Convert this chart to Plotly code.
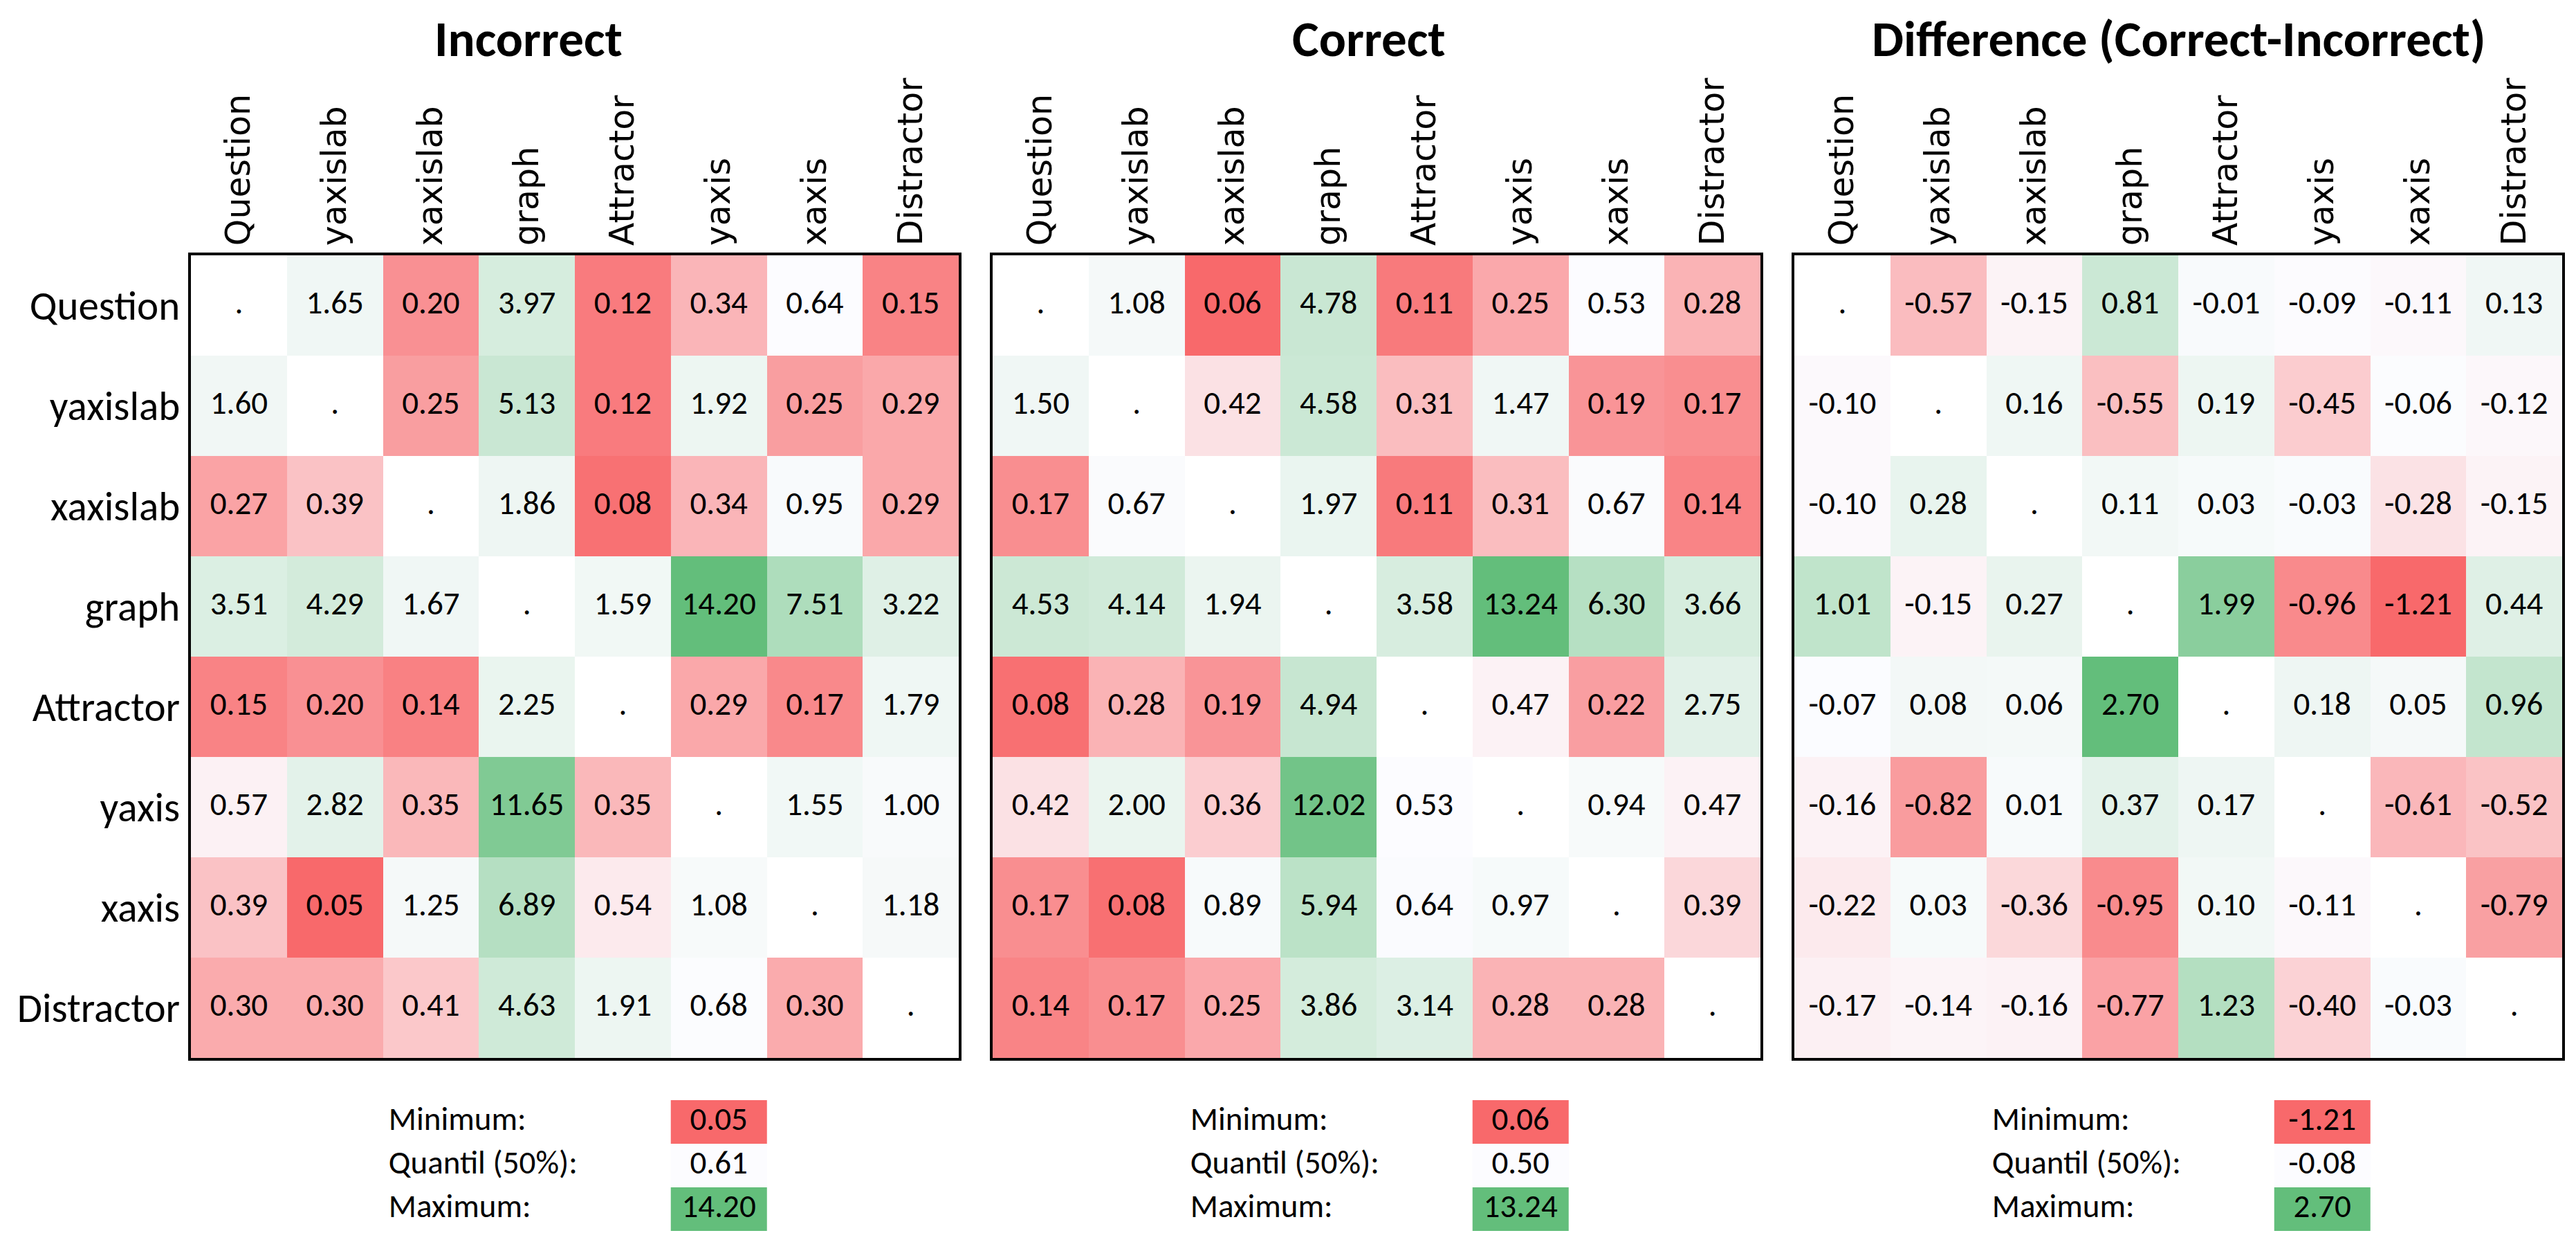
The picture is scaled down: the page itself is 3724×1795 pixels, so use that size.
import plotly.graph_objects as go

# ---------------- data ----------------
labels = ["Question", "yaxislab", "xaxislab", "graph", "Attractor", "yaxis", "xaxis", "Distractor"]

incorrect = [
    [None, 1.65, 0.20, 3.97, 0.12, 0.34, 0.64, 0.15],
    [1.60, None, 0.25, 5.13, 0.12, 1.92, 0.25, 0.29],
    [0.27, 0.39, None, 1.86, 0.08, 0.34, 0.95, 0.29],
    [3.51, 4.29, 1.67, None, 1.59, 14.20, 7.51, 3.22],
    [0.15, 0.20, 0.14, 2.25, None, 0.29, 0.17, 1.79],
    [0.57, 2.82, 0.35, 11.65, 0.35, None, 1.55, 1.00],
    [0.39, 0.05, 1.25, 6.89, 0.54, 1.08, None, 1.18],
    [0.30, 0.30, 0.41, 4.63, 1.91, 0.68, 0.30, None],
]

correct = [
    [None, 1.08, 0.06, 4.78, 0.11, 0.25, 0.53, 0.28],
    [1.50, None, 0.42, 4.58, 0.31, 1.47, 0.19, 0.17],
    [0.17, 0.67, None, 1.97, 0.11, 0.31, 0.67, 0.14],
    [4.53, 4.14, 1.94, None, 3.58, 13.24, 6.30, 3.66],
    [0.08, 0.28, 0.19, 4.94, None, 0.47, 0.22, 2.75],
    [0.42, 2.00, 0.36, 12.02, 0.53, None, 0.94, 0.47],
    [0.17, 0.08, 0.89, 5.94, 0.64, 0.97, None, 0.39],
    [0.14, 0.17, 0.25, 3.86, 3.14, 0.28, 0.28, None],
]

difference = [
    [None, -0.57, -0.15, 0.81, -0.01, -0.09, -0.11, 0.13],
    [-0.10, None, 0.16, -0.55, 0.19, -0.45, -0.06, -0.12],
    [-0.10, 0.28, None, 0.11, 0.03, -0.03, -0.28, -0.15],
    [1.01, -0.15, 0.27, None, 1.99, -0.96, -1.21, 0.44],
    [-0.07, 0.08, 0.06, 2.70, None, 0.18, 0.05, 0.96],
    [-0.16, -0.82, 0.01, 0.37, 0.17, None, -0.61, -0.52],
    [-0.22, 0.03, -0.36, -0.95, 0.10, -0.11, None, -0.79],
    [-0.17, -0.14, -0.16, -0.77, 1.23, -0.40, -0.03, None],
]

panel_titles = ["Incorrect", "Correct", "Difference (Correct-Incorrect)"]
stat_labels = ["Minimum:", "Quantil (50%):", "Maximum:"]
incorrect_stats = [0.05, 0.61, 14.20]
correct_stats = [0.06, 0.50, 13.24]
difference_stats = [-1.21, -0.08, 2.70]

matrices = [incorrect, correct, difference]
stats = [incorrect_stats, correct_stats, difference_stats]

# ---------------- style / layout ----------------
RED, MID, GREEN = "#F8696B", "#FCFCFF", "#63BE7B"
W, H = 3724, 1795
panel_left = [268, 1427, 2586]
panel_w = 1110
grid_top, grid_bot = 361, 1521
leg_top, leg_bot = 1582, 1771
title_x = [756, 1971, 3141]
title_y = 48

NARROW = "Carlito, Calibri, 'Liberation Sans Narrow', 'Arial Narrow', sans-serif"
DEJAVU = "'DejaVu Sans', sans-serif"

cell_font = dict(family=NARROW, size=47, color="black")


def px_x(p):
    return p / W


def px_y(p):
    return 1 - p / H


fig = go.Figure()
n = len(labels)

for k in range(3):
    mat = matrices[k]
    mn, med, mx = stats[k]
    mid_pos = (med - mn) / (mx - mn)
    cs = [[0, RED], [mid_pos, MID], [1, GREEN]]
    gx = "x" if k == 0 else f"x{k + 1}"
    gy = "y" if k == 0 else f"y{k + 1}"
    lx = f"x{k + 4}"
    ly = f"y{k + 4}"

    fig.add_trace(go.Heatmap(
        z=mat, x=list(range(n)), y=list(range(n)),
        colorscale=cs, zmin=mn, zmax=mx, showscale=False,
        xaxis=gx, yaxis=gy, hoverinfo="skip", xgap=0, ygap=0,
    ))
    tx, ty, tt = [], [], []
    for i in range(n):
        for j in range(n):
            v = mat[i][j]
            tx.append(j)
            ty.append(i)
            tt.append("." if v is None else f"{v:.2f}")
    fig.add_trace(go.Scatter(
        x=tx, y=ty, text=tt, mode="text", textfont=cell_font,
        textposition="middle center", xaxis=gx, yaxis=gy,
        hoverinfo="skip", showlegend=False, cliponaxis=False,
    ))

    # legend block (min / median / max)
    fig.add_trace(go.Heatmap(
        z=[[s] for s in stats[k]], x=[5], y=[0, 1, 2],
        colorscale=cs, zmin=mn, zmax=mx, showscale=False,
        xaxis=lx, yaxis=ly, hoverinfo="skip",
    ))
    fig.add_trace(go.Scatter(
        x=[5, 5, 5], y=[0, 1, 2], text=[f"{s:.2f}" for s in stats[k]],
        mode="text", textfont=cell_font, textposition="middle center",
        xaxis=lx, yaxis=ly, hoverinfo="skip", showlegend=False, cliponaxis=False,
    ))
    fig.add_trace(go.Scatter(
        x=[1.56, 1.56, 1.56], y=[0, 1, 2], text=stat_labels,
        mode="text", textfont=cell_font, textposition="middle right",
        xaxis=lx, yaxis=ly, hoverinfo="skip", showlegend=False, cliponaxis=False,
    ))

    dom_x = [px_x(panel_left[k]), px_x(panel_left[k] + panel_w)]
    xkey = "xaxis" if k == 0 else f"xaxis{k + 1}"
    ykey = "yaxis" if k == 0 else f"yaxis{k + 1}"
    fig.update_layout(**{
        xkey: dict(
            domain=dom_x, range=[-0.5, n - 0.5], side="top",
            tickmode="array", tickvals=list(range(n)), ticktext=labels,
            tickangle=-90, tickfont=dict(family=DEJAVU, size=49, color="black"),
            showgrid=False, zeroline=False, ticks="",
            showline=True, mirror=True, linewidth=4, linecolor="black",
            anchor=gy, fixedrange=True,
        ),
        ykey: dict(
            domain=[px_y(grid_bot), px_y(grid_top)], range=[n - 0.5, -0.5],
            tickmode="array", tickvals=list(range(n)),
            ticktext=labels if k == 0 else [""] * n,
            showticklabels=(k == 0),
            tickfont=dict(family=NARROW, size=59, color="black"),
            showgrid=False, zeroline=False, ticks="",
            showline=True, mirror=True, linewidth=4, linecolor="black",
            anchor=gx, fixedrange=True,
        ),
        f"xaxis{k + 4}": dict(
            domain=dom_x, range=[-0.5, n - 0.5], visible=False,
            anchor=ly, fixedrange=True,
        ),
        f"yaxis{k + 4}": dict(
            domain=[px_y(leg_bot), px_y(leg_top)], range=[2.5, -0.5], visible=False,
            anchor=lx, fixedrange=True,
        ),
    })

    fig.add_annotation(
        x=px_x(title_x[k]), y=px_y(title_y), xref="paper", yref="paper",
        text=f"<b>{panel_titles[k]}</b>", showarrow=False,
        xanchor="center", yanchor="middle",
        font=dict(family=NARROW, size=73, color="black"),
    )

fig.update_layout(
    width=W, height=H, margin=dict(l=0, r=0, t=0, b=0),
    paper_bgcolor="white", plot_bgcolor="white", showlegend=False,
)

fig.write_html("out.html")
